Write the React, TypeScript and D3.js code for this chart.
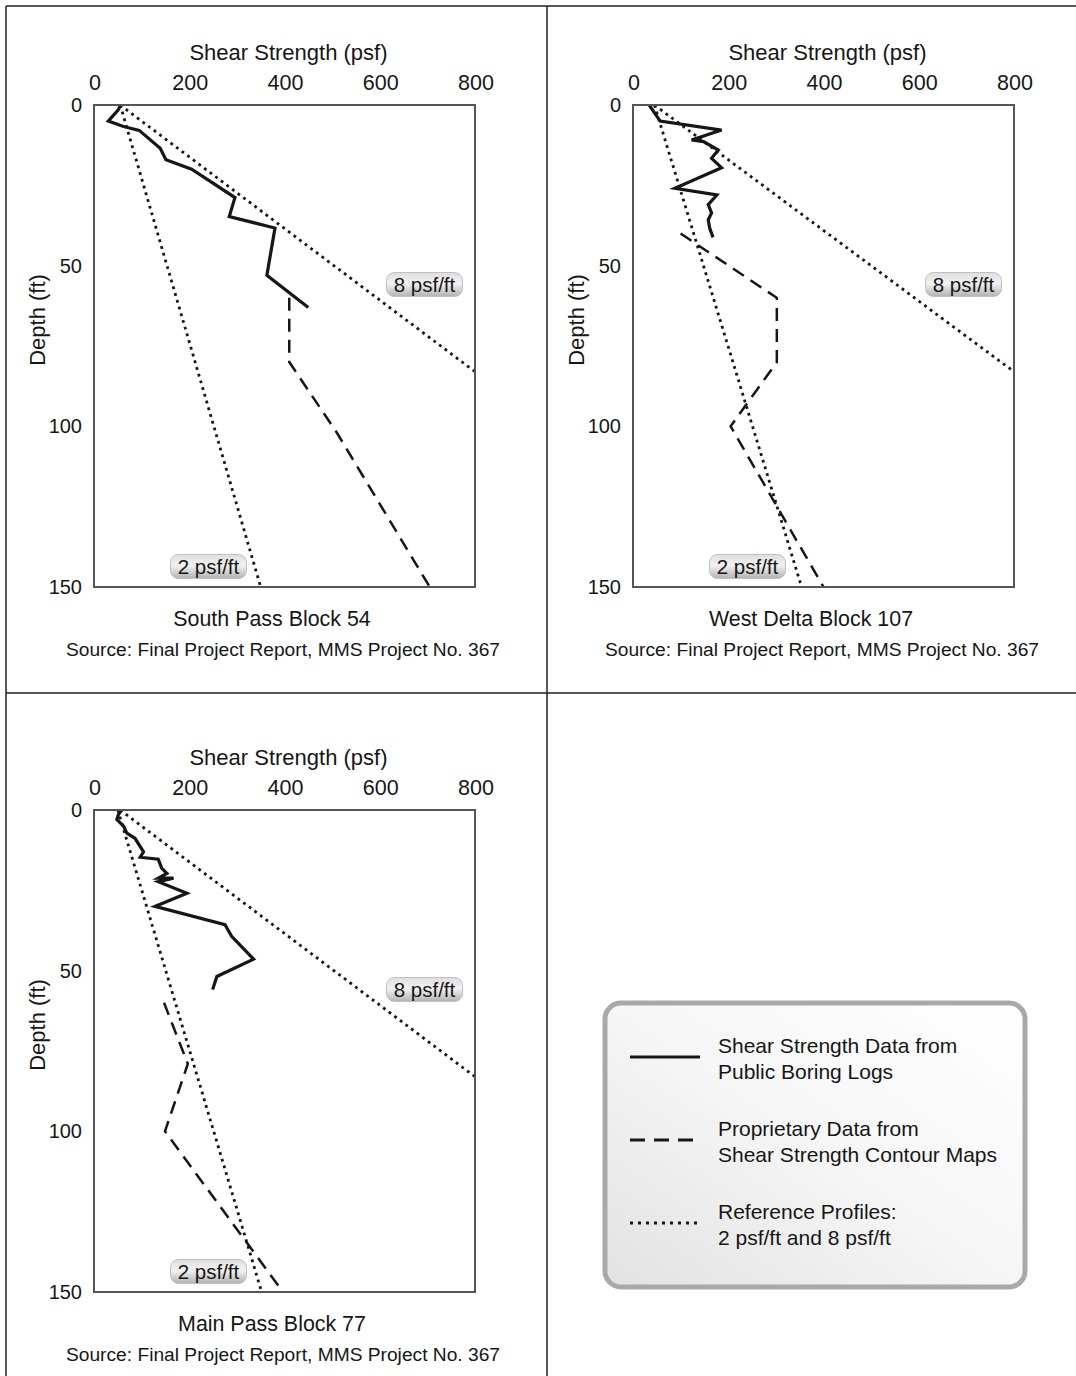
import React from 'react';
import * as d3 from 'd3';

type Pt = [number, number]; // [shear psf, depth ft]

const xTicks = [0, 200, 400, 600, 800];
const yTicks = [0, 50, 100, 150];

const sp54Boring: Pt[] = [[56, 0], [51, 1.5], [30, 5], [62, 6.7], [95, 7.9], [139, 13.5], [151, 17], [205, 20], [296, 28.8], [284, 34.7], [380, 38.3], [363, 53], [450, 63]];
const sp54Contour: Pt[] = [[410, 60], [410, 80], [510, 102], [705, 150]];
const sp54Ref2: Pt[] = [[55, 0], [350, 150]];
const sp54Ref8: Pt[] = [[55, 0], [800, 83]];

const wd107Boring: Pt[] = [[34, 0], [57, 5], [186, 7.8], [123, 10.9], [148, 11.4], [179, 14], [165, 16.6], [186, 19.5], [88, 25.9], [176, 28], [158, 31], [165, 33.6], [158, 35.7], [161, 38.3], [168, 41.2]];
const wd107Contour: Pt[] = [[100, 40], [302, 60], [302, 80], [205, 100], [400, 150]];
const wd107Ref2: Pt[] = [[45, 0], [354, 150]];
const wd107Ref8: Pt[] = [[45, 0], [800, 83]];

const mp77Boring: Pt[] = [[58, 0], [51, 1.5], [48, 3], [62, 5], [69, 7.2], [86, 8.8], [104, 13], [97, 14.7], [135, 15.3], [142, 18.1], [153, 19.7], [135, 21.2], [167, 21.2], [135, 22.3], [195, 25.9], [128, 30], [275, 35.7], [289, 39.3], [335, 46.4], [258, 51.8], [249, 55.9]];
const mp77Contour: Pt[] = [[147, 60], [197, 79], [149, 100], [387, 148]];
const mp77Ref2: Pt[] = [[50, 0], [352, 150]];
const mp77Ref8: Pt[] = [[55, 0], [800, 83]];

const panelTitles = ['South Pass Block 54', 'West Delta Block 107', 'Main Pass Block 77'];
const sourceText = 'Source: Final Project Report, MMS Project No. 367';
const axisTitleX = 'Shear Strength (psf)';
const axisTitleY = 'Depth (ft)';
const legendItems = [
  ['Shear Strength Data from', 'Public Boring Logs'],
  ['Proprietary Data from', 'Shear Strength Contour Maps'],
  ['Reference Profiles:', '2 psf/ft and 8 psf/ft'],
];

const FONT = '"Liberation Sans", Arial, Helvetica, sans-serif';
const INK = '#161616';
const BOX_W = 381;
const BOX_H = 482;

interface PanelProps {
  left: number;
  top: number;
  name: string;
  boring: Pt[];
  contour: Pt[];
  ref2: Pt[];
  ref8: Pt[];
}

function Pill({ cx, cy, text }: { cx: number; cy: number; text: string }) {
  const w = 76, h = 24;
  return (
    <g>
      <rect x={cx - w / 2} y={cy - h / 2} width={w} height={h} rx={8} ry={8} fill="url(#pillGrad)" stroke="#c0c0c0" strokeWidth={1} />
      <text x={cx} y={cy + 7} textAnchor="middle" fontSize={20.5} fontFamily={FONT} fill={INK}>{text}</text>
    </g>
  );
}

function Panel({ left, top, name, boring, contour, ref2, ref8 }: PanelProps) {
  const x = d3.scaleLinear().domain([0, 800]).range([left, left + BOX_W]);
  const y = d3.scaleLinear().domain([0, 150]).range([top, top + BOX_H]);
  const line = d3.line<Pt>().x(d => x(d[0])).y(d => y(d[1]));
  const clipId = `clip-${left}-${top}`;
  return (
    <g>
      <defs>
        <clipPath id={clipId}>
          <rect x={left} y={top} width={BOX_W} height={BOX_H} />
        </clipPath>
      </defs>
      <text x={left + BOX_W / 2 + 4} y={top - 45} textAnchor="middle" fontSize={22} fontFamily={FONT} fill={INK}>{axisTitleX}</text>
      {xTicks.map(t => (
        <text key={t} x={x(t) + 1} y={top - 15} textAnchor="middle" fontSize={21.5} fontFamily={FONT} fill={INK}>{t}</text>
      ))}
      {yTicks.map(t => (
        <text key={t} x={left - 12} y={y(t) + 7} textAnchor="end" fontSize={20} fontFamily={FONT} fill={INK}>{t}</text>
      ))}
      <text transform={`translate(${left - 49},${top + 215}) rotate(-90)`} textAnchor="middle" fontSize={22} fontFamily={FONT} fill={INK}>{axisTitleY}</text>
      <g clipPath={`url(#${clipId})`}>
        <path d={line(ref2) || ''} fill="none" stroke={INK} strokeWidth={2.8} strokeDasharray="2.8 4.2" />
        <path d={line(ref8) || ''} fill="none" stroke={INK} strokeWidth={2.8} strokeDasharray="2.8 4.2" />
        <path d={line(contour) || ''} fill="none" stroke={INK} strokeWidth={2.5} strokeDasharray="13 8" />
        <path d={line(boring) || ''} fill="none" stroke={INK} strokeWidth={3.2} strokeLinejoin="miter" />
      </g>
      <rect x={left} y={top} width={BOX_W} height={BOX_H} fill="none" stroke="#555" strokeWidth={2} />
      <Pill cx={left + 330.5} cy={top + 179.5} text="8 psf/ft" />
      <Pill cx={left + 114.5} cy={top + 461.5} text="2 psf/ft" />
      <text x={left + 178} y={top + 521} textAnchor="middle" fontSize={21.4} fontFamily={FONT} fill={INK}>{name}</text>
      <text x={left + 189} y={top + 551} textAnchor="middle" fontSize={19.2} fontFamily={FONT} fill={INK}>{sourceText}</text>
    </g>
  );
}

function Legend() {
  const lx = 605, ly = 1003, lw = 420, lh = 284;
  const rows = [1057, 1140, 1223];
  const dashes = [undefined, '15 9', '3 5'];
  const widths = [3.2, 3, 2.8];
  return (
    <g>
      <rect x={lx} y={ly} width={lw} height={lh} rx={16} ry={16} fill="url(#legendGrad)" stroke="#a9a9a9" strokeWidth={5} />
      {rows.map((ry, i) => (
        <g key={i}>
          <line x1={630} x2={700} y1={ry} y2={ry} stroke={INK} strokeWidth={widths[i]} strokeDasharray={dashes[i]} />
          <text x={718} y={ry - 4} fontSize={21} fontFamily={FONT} fill={INK}>{legendItems[i][0]}</text>
          <text x={718} y={ry + 22} fontSize={21} fontFamily={FONT} fill={INK}>{legendItems[i][1]}</text>
        </g>
      ))}
    </g>
  );
}

export default function App() {
  return (
    <svg width={1076} height={1376} style={{ position: 'absolute', left: 0, top: 0, background: '#fff' }}>
      <defs>
        <linearGradient id="pillGrad" x1="0" y1="0" x2="0" y2="1">
          <stop offset="0" stopColor="#dedede" />
          <stop offset="0.45" stopColor="#f2f2f2" />
          <stop offset="1" stopColor="#b2b2b2" />
        </linearGradient>
        <linearGradient id="legendGrad" x1="1" y1="0" x2="0" y2="1">
          <stop offset="0" stopColor="#ffffff" />
          <stop offset="0.5" stopColor="#f6f6f6" />
          <stop offset="1" stopColor="#e2e2e2" />
        </linearGradient>
      </defs>
      <rect x={0} y={0} width={1076} height={1376} fill="#fff" />
      <line x1={6} x2={1076} y1={6} y2={6} stroke="#222" strokeWidth={1.5} />
      <line x1={6} x2={6} y1={6} y2={1376} stroke="#222" strokeWidth={1.5} />
      <line x1={547} x2={547} y1={6} y2={1376} stroke="#222" strokeWidth={1.5} />
      <line x1={6} x2={1076} y1={693} y2={693} stroke="#222" strokeWidth={1.5} />
      <Panel left={94} top={105} name={panelTitles[0]} boring={sp54Boring} contour={sp54Contour} ref2={sp54Ref2} ref8={sp54Ref8} />
      <Panel left={633} top={105} name={panelTitles[1]} boring={wd107Boring} contour={wd107Contour} ref2={wd107Ref2} ref8={wd107Ref8} />
      <Panel left={94} top={810} name={panelTitles[2]} boring={mp77Boring} contour={mp77Contour} ref2={mp77Ref2} ref8={mp77Ref8} />
      <Legend />
    </svg>
  );
}
